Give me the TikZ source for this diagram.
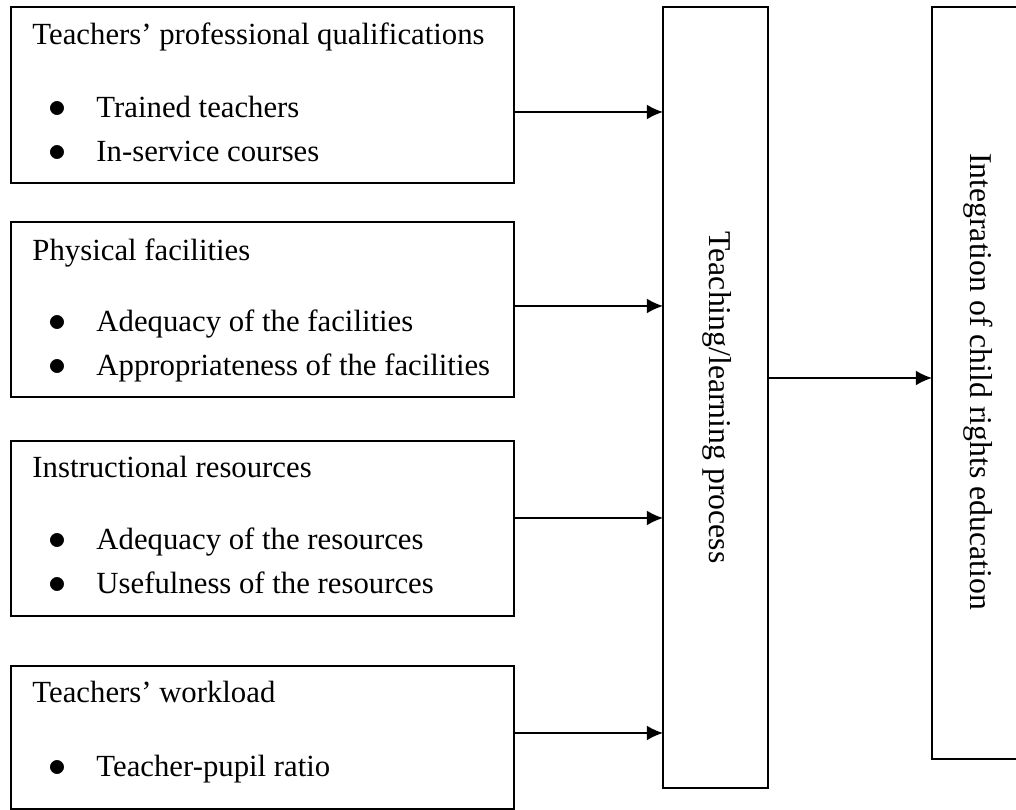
\documentclass[tikz,border=0pt]{standalone}
\usepackage{fontspec}
\setmainfont{Liberation Serif}
\usetikzlibrary{arrows.meta}

\tikzset{
  factor/.style={draw,line width=0.7pt,anchor=north west,inner sep=0pt,outer sep=0pt,
    minimum width=201.2pt},
  stage/.style={draw,line width=0.7pt,anchor=north west,inner sep=0pt,outer sep=0pt},
  heading/.style={anchor=base west,inner sep=0pt},
  items/.style={anchor=base west,inner sep=0pt},
  vlabel/.style={rotate=-90,anchor=base,inner sep=0pt,font=\fontsize{12.7}{17.6}\selectfont},
  link/.style={-{Latex[length=6.5pt,width=6pt]},line width=0.7pt}
}
\newcommand{\bul}{\makebox[19.2pt][l]{\fontsize{14.5}{17.6}\selectfont$\bullet$}}

\begin{document}
\begin{tikzpicture}[x=0.4pt,y=-0.4pt,font=\fontsize{12.3}{17.6}\selectfont]
  \useasboundingbox (0,0) rectangle (1016,810);
  \clip (0,0) rectangle (1016,810);

  % input boxes
  \node[factor,minimum height=70.4pt] (qual) at (11,7) {};
  \node[factor,minimum height=70pt] (facil) at (11,222) {};
  \node[factor,minimum height=70pt] (resrc) at (11,441) {};
  \node[factor,minimum height=57.1pt] (load) at (11,666) {};

  % process and outcome
  \node[stage,minimum width=42pt,minimum height=312.4pt] (process) at (663,7) {};
  \node[stage,minimum width=43.2pt,minimum height=300.8pt] (outcome) at (932,7) {};

  % box texts
  \node[heading] (qualtitle) at ([shift={(21,38)}]qual.north west) {Teachers’ professional qualifications};
  \node[items] (quallist) at ([shift={(37,111)}]qual.north west)
    {\begin{tabular}[t]{@{}l@{}}\bul Trained teachers\\ \bul In-service courses\end{tabular}};

  \node[heading] (faciltitle) at ([shift={(21,39)}]facil.north west) {Physical facilities};
  \node[items] (facillist) at ([shift={(37,110)}]facil.north west)
    {\begin{tabular}[t]{@{}l@{}}\bul Adequacy of the facilities\\ \bul Appropriateness of the facilities\end{tabular}};

  \node[heading] (resrctitle) at ([shift={(21,37)}]resrc.north west) {Instructional resources};
  \node[items] (resrclist) at ([shift={(37,109)}]resrc.north west)
    {\begin{tabular}[t]{@{}l@{}}\bul Adequacy of the resources\\ \bul Usefulness of the resources\end{tabular}};

  \node[heading] (loadtitle) at ([shift={(21,37)}]load.north west) {Teachers’ workload};
  \node[items] (loadlist) at ([shift={(37,111)}]load.north west)
    {\begin{tabular}[t]{@{}l@{}}\bul Teacher-pupil ratio\end{tabular}};

  \node[vlabel] (processlabel) at ([xshift=-2.5]process.center) {Teaching/learning process};
  \node[vlabel] (outcomelabel) at (970,381.5) {Integration of child rights education};

  % arrows
  \draw[link] (qual.east |- 0,112) -- (process.west |- 0,112);
  \draw[link] (facil.east |- 0,306) -- (process.west |- 0,306);
  \draw[link] (resrc.east |- 0,518) -- (process.west |- 0,518);
  \draw[link] (load.east |- 0,733) -- (process.west |- 0,733);
  \draw[link] (process.east |- 0,378) -- (outcome.west |- 0,378);
\end{tikzpicture}
\end{document}
